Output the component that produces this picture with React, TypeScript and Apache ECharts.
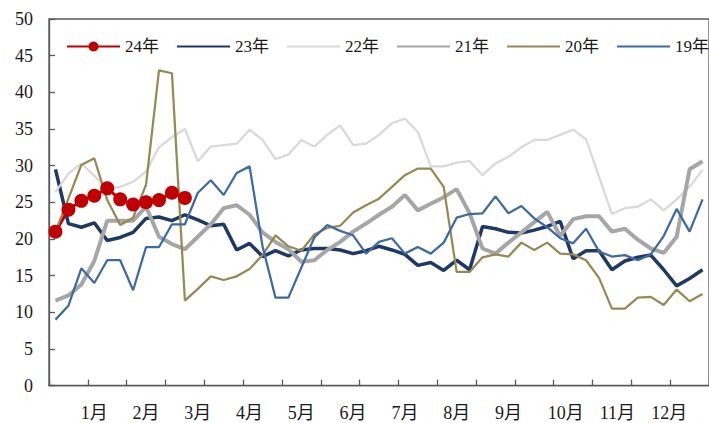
import React, { useEffect, useRef } from 'react';
import * as echarts from 'echarts';

// 51 weekly categories
const categories: string[] = Array.from({ length: 51 }, (_, i) => `W${i + 1}`);
const monthLabels = ['1月', '2月', '3月', '4月', '5月', '6月', '7月', '8月', '9月', '10月', '11月', '12月'];
const monthLabelWeeks = [3, 7, 11, 15, 19, 23, 27, 31, 35, 39, 43, 47];

const yTicks = { min: 0, max: 50, interval: 5 };

const s24 = [21.0, 24.0, 25.2, 25.9, 26.9, 25.4, 24.7, 25.0, 25.3, 26.3, 25.6];
const s23 = [29.5, 22.1, 21.6, 22.2, 19.8, 20.2, 20.9, 22.8, 23.0, 22.5, 23.3, 22.6, 21.8, 22.0, 18.5, 19.4, 17.6, 18.4, 17.7, 18.5, 18.7, 18.7, 18.5, 18.0, 18.4, 19.0, 18.5, 17.9, 16.4, 16.8, 15.7, 17.1, 15.8, 21.7, 21.4, 20.9, 20.8, 21.2, 21.7, 22.4, 17.3, 18.4, 18.4, 15.8, 17.0, 17.5, 17.8, 15.8, 13.6, 14.6, 15.8];
const s22 = [26.4, 28.9, 30.3, 28.6, 26.8, 27.1, 27.8, 29.2, 32.5, 33.9, 35.0, 30.6, 32.6, 32.8, 33.0, 34.9, 33.5, 30.9, 31.5, 33.5, 32.6, 34.2, 35.5, 32.8, 33.0, 34.2, 35.8, 36.4, 34.6, 29.9, 29.9, 30.4, 30.6, 28.7, 30.3, 31.2, 32.5, 33.5, 33.5, 34.2, 34.9, 33.6, 28.5, 23.4, 24.2, 24.4, 25.4, 23.9, 25.4, 27.1, 29.4];
const s21 = [11.6, 12.3, 13.8, 17.0, 22.5, 22.5, 22.5, 24.4, 20.3, 19.3, 18.6, 20.3, 22.0, 24.2, 24.6, 23.3, 20.9, 19.6, 18.6, 16.9, 17.1, 18.5, 19.6, 21.0, 22.1, 23.3, 24.4, 26.0, 23.9, 24.8, 25.7, 26.8, 23.5, 18.7, 18.0, 19.5, 20.9, 22.3, 23.7, 20.4, 22.7, 23.1, 23.1, 21.0, 21.4, 19.9, 18.7, 18.1, 20.3, 29.5, 30.6];
const s20 = [21.0, 25.5, 30.1, 31.0, 25.3, 21.9, 22.9, 27.4, 43.0, 42.6, 11.6, 13.2, 14.9, 14.4, 14.9, 15.9, 17.8, 20.5, 19.0, 18.4, 20.6, 21.5, 21.8, 23.6, 24.6, 25.5, 27.1, 28.7, 29.6, 29.6, 27.1, 15.5, 15.5, 17.5, 17.9, 17.6, 19.5, 18.5, 19.5, 18.0, 17.9, 17.1, 14.7, 10.5, 10.5, 12.0, 12.1, 11.0, 13.1, 11.5, 12.5];
const s19 = [9.0, 10.9, 16.0, 14.0, 17.1, 17.1, 13.0, 18.9, 18.9, 22.0, 22.0, 26.3, 28.0, 26.0, 29.0, 29.9, 19.0, 12.0, 12.0, 16.1, 20.2, 21.9, 21.1, 20.5, 18.0, 19.6, 20.1, 18.0, 18.9, 18.0, 19.5, 22.9, 23.4, 23.5, 25.8, 23.5, 24.5, 22.8, 21.6, 20.1, 19.4, 21.4, 18.3, 17.6, 17.8, 17.1, 17.9, 20.4, 24.1, 21.0, 25.4];

const seriesNames = ['24年', '23年', '22年', '21年', '20年', '19年'];
const seriesData = [s24, s23, s22, s21, s20, s19];
const seriesColors = ['#C00000', '#1F3864', '#D9D9D9', '#A6A6A6', '#948A54', '#3D6AA3'];
const seriesWidths = [3, 3.5, 2.25, 4, 2.25, 2.25];

const FONT = "'Liberation Serif', 'Times New Roman', 'Noto Sans CJK SC', serif";
const AXIS_COLOR = '#595959';
const TEXT_COLOR = '#1a1a1a';

export default function App() {
  const ref = useRef<HTMLDivElement>(null);
  useEffect(() => {
    if (!ref.current) return;
    const chart = echarts.init(ref.current, undefined, { renderer: 'svg' });
    const labelText = { fontFamily: FONT, fontSize: 18, color: TEXT_COLOR };
    chart.setOption({
      animation: false,
      backgroundColor: '#ffffff',
      grid: {
        left: 49,
        top: 19,
        width: 662,
        height: 366.6,
        show: true,
        borderColor: AXIS_COLOR,
        borderWidth: 1.3,
        backgroundColor: 'transparent',
      },
      legend: {
        left: 66,
        top: 38,
        width: 700,
        padding: 0,
        itemWidth: 53,
        itemHeight: 12.5,
        itemGap: 17,
        textStyle: { ...labelText, fontSize: 17 },
        data: seriesNames.map((n, i) => (i === 0 ? n : { name: n, itemStyle: { opacity: 0 } })),
      },
      xAxis: {
        type: 'category',
        data: categories,
        boundaryGap: true,
        axisLine: { show: true, lineStyle: { color: AXIS_COLOR, width: 1.3 } },
        axisTick: { show: true, inside: true, length: 6, interval: 2, lineStyle: { color: AXIS_COLOR, width: 1.3 } },
        axisLabel: {
          interval: (index: number) => monthLabelWeeks.includes(index),
          formatter: (_v: string, index: number) => {
            const k = monthLabelWeeks.indexOf(index);
            if (k < 0) return '';
            return k >= 9 ? `{w|${monthLabels[k]}}` : monthLabels[k];
          },
          ...labelText,
          margin: 18,
          rich: { w: { ...labelText, padding: [0, 0, 0, 11] } },
        },
        splitLine: { show: false },
      },
      yAxis: {
        type: 'value',
        min: yTicks.min,
        max: yTicks.max,
        interval: yTicks.interval,
        axisLine: { show: true, lineStyle: { color: AXIS_COLOR, width: 1.3 } },
        axisTick: { show: true, inside: true, length: 6, lineStyle: { color: AXIS_COLOR, width: 1.3 } },
        axisLabel: { ...labelText, margin: 16 },
        splitLine: { show: false },
      },
      series: seriesNames.map((name, i) => ({
        name,
        type: 'line',
        data: seriesData[i],
        symbol: i === 0 ? 'circle' : 'none',
        symbolSize: 14,
        showSymbol: i === 0,
        showAllSymbol: true,
        lineStyle: { color: seriesColors[i], width: seriesWidths[i] },
        itemStyle: { color: seriesColors[i] },
        emphasis: { disabled: true },
      })),
    });
    return () => chart.dispose();
  }, []);
  return <div ref={ref} style={{ position: 'absolute', left: 0, top: 0, width: 709, height: 423 }} />;
}
